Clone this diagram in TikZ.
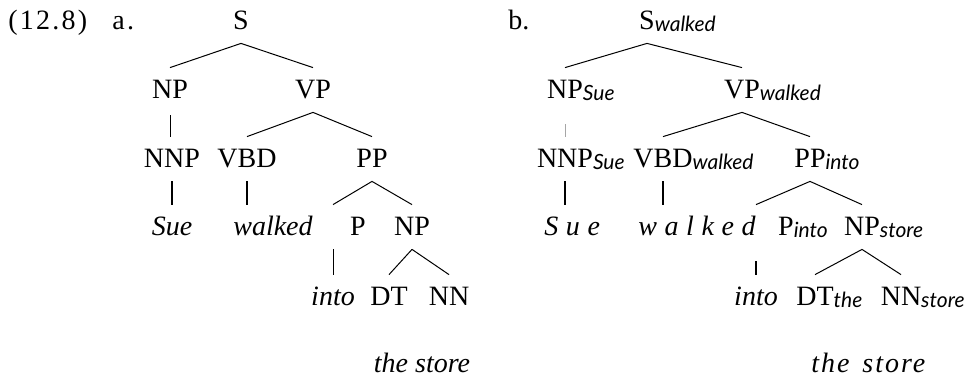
\documentclass[tikz,border=0pt]{standalone}
\usepackage{fontspec}
\setmainfont{LiberationSerif}[Extension=.ttf,UprightFont=*-Regular,ItalicFont=*-Italic,BoldFont=*-Bold]
\newfontfamily\subfam{Lato}
\usepackage{tikz}

\newcommand{\hd}[2]{#1\rlap{\raisebox{-1pt}{\subfam\fontsize{10.5}{12}\selectfont\itshape #2}}}
\newcommand{\spaced}[2]{{\addfontfeature{LetterSpace=#1}#2}}

\tikzset{
  cat/.style={anchor=base,inner xsep=0pt,inner ysep=0pt,text height=15pt,text depth=7pt,font=\fontsize{14}{16}\selectfont},
  word/.style={cat,font=\fontsize{14}{16}\selectfont\itshape},
  branch/.style={line width=0.5pt},
  stem/.style={line width=1.1pt}
}

\begin{document}
\begin{tikzpicture}[x=0.5pt,y=-0.5pt]
\useasboundingbox (0,0) rectangle (972,375);

% example number
\node[cat,anchor=base west] (exnum) at (8,29) {\spaced{8}{(12.8)}};
\node[cat,anchor=base west] (laba) at (112,29) {\spaced{8}{a.}};

% tree a
\node[cat] (s) at (241,29) {S};
\node[cat] (np) at (170,98) {NP};
\node[cat] (vp) at (313,98) {VP};
\node[cat] (nnp) at (172,167) {NNP};
\node[cat] (vbd) at (247,167) {VBD};
\node[cat] (pp) at (372,167) {PP};
\node[word] (sue) at (172,235) {Sue};
\node[word] (walked) at (273,235) {walked};
\node[cat] (p) at (358,235) {P};
\node[cat] (npb) at (412,235) {NP};
\node[word] (into) at (333,305) {into};
\node[cat] (dt) at (389,305) {DT};
\node[cat] (nn) at (449,305) {NN};
\node[word] (thestore) at (422,372) {the store};

\draw[branch] (s.south) -- (np.north);
\draw[branch] (s.south) -- (vp.north);
\draw[branch] ([yshift=-1.5pt]np.south) -- (np.south |- nnp.north);
\draw[branch] (vp.south) -- (vbd.north);
\draw[branch] (vp.south) -- (pp.north);
\draw[stem] (nnp.south) -- (nnp.south |- sue.north);
\draw[stem] (vbd.south) -- (vbd.south |- walked.north);
\draw[branch] (pp.south) -- (into.north |- p.north);
\draw[branch] (pp.south) -- (npb.north);
\draw[branch] (into.north |- p.south) -- (into.north);
\draw[branch] (npb.south) -- (dt.north);
\draw[branch] (npb.south) -- (nn.north);

% tree b
\node[cat,anchor=base west] (labb) at (508,29) {b.};
\node[cat] (sw) at (647,29) {\hd{S}{walked}};
\node[cat] (nps) at (565,98) {\hd{NP}{Sue}};
\node[cat] (vpw) at (742,98) {\hd{VP}{walked}};
\node[cat] (nnps) at (565,167) {\hd{NNP}{Sue}};
\node[cat] (vbdw) at (663,167) {\hd{VBD}{walked}};
\node[cat] (ppi) at (810,167) {\hd{PP}{into}};
\node[word,anchor=base west] (sueb) at (544,235) {\spaced{27}{Sue}};
\node[word,anchor=base west] (walkedb) at (638,235) {\spaced{27}{walked}};
\node[cat] (pin) at (786,235) {\hd{P}{into}};
\node[cat] (npst) at (862,235) {\hd{NP}{store}};
\node[word] (intob) at (756,305) {into};
\node[cat] (dtt) at (815,305) {\hd{DT}{the}};
\node[cat] (nnst) at (901,305) {\hd{NN}{store}};
\node[word,anchor=base west] (thestoreb) at (811,372) {\spaced{7}{the\hspace{2pt} store}};

\draw[branch] (sw.south) -- (nps.north);
\draw[branch] (sw.south) -- (vpw.north);
\draw[branch,black!35,shorten <=6pt] (nps.south) -- (nps.south |- nnps.north);
\draw[branch] (vpw.south) -- (vbdw.north);
\draw[branch] (vpw.south) -- (ppi.north);
\draw[stem] (nnps.south) -- (nnps.south |- sueb.north);
\draw[stem] (vbdw.south) -- (vbdw.south |- walkedb.north);
\draw[branch] (ppi.south) -- (intob.north |- pin.north);
\draw[branch] (ppi.south) -- (npst.north);
\draw[stem] ([yshift=-6pt]intob.north |- pin.south) -- (intob.north);
\draw[branch] (npst.south) -- (dtt.north);
\draw[branch] (npst.south) -- (nnst.north);
\end{tikzpicture}
\end{document}
